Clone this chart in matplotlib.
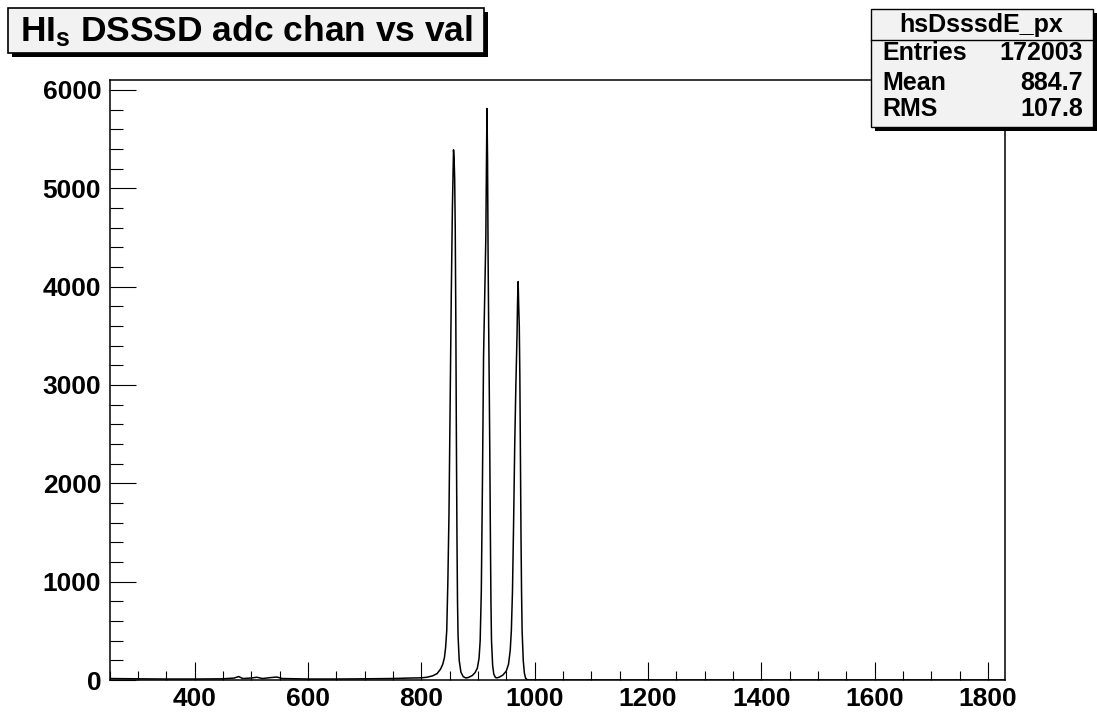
import matplotlib
matplotlib.use("Agg")
import matplotlib.pyplot as plt
from matplotlib.patches import Rectangle
from matplotlib.ticker import MultipleLocator
from matplotlib.lines import Line2D

plt.rcParams['font.family'] = ['Liberation Sans', 'DejaVu Sans']
plt.rcParams['mathtext.fontset'] = 'custom'
plt.rcParams['mathtext.rm'] = 'Liberation Sans:bold'
plt.rcParams['mathtext.bf'] = 'Liberation Sans:bold'
plt.rcParams['mathtext.it'] = 'Liberation Sans:bold'

# ---- data (channel, counts) ----
channels = [250, 300, 350, 400, 450, 470, 478, 485, 500, 510, 520, 535, 545, 555,
            600, 650, 700, 750, 780, 800, 810, 820, 828, 834, 838, 841, 843, 845,
            847, 849, 851, 853, 855, 857, 858, 859, 860, 861, 862, 863, 864, 865,
            867, 870, 874, 878, 881, 884, 890, 895, 899, 902, 904, 906, 908, 910,
            912, 914, 915, 916, 917, 918, 919, 920, 921, 922, 923, 924, 926, 928,
            931, 934, 938, 944, 950, 954, 957, 959, 961, 963, 965, 967, 969, 970,
            971, 972, 973, 974, 975, 976, 977, 978, 980, 982, 984, 987, 990, 1000,
            1830]
counts = [15, 12, 10, 10, 12, 20, 35, 15, 20, 28, 15, 25, 30, 15,
          10, 10, 12, 15, 20, 22, 28, 42, 65, 110, 160, 230, 330, 500,
          1000, 1700, 2800, 3900, 4800, 5390, 5300, 5100, 4600, 3700, 2500, 1500, 800, 450,
          200, 80, 35, 22, 22, 28, 45, 75, 120, 220, 400, 900, 2000, 3300,
          3900, 4500, 5200, 5810, 5300, 4300, 3600, 3000, 2300, 1500, 800, 400, 150, 60,
          25, 22, 30, 50, 90, 160, 300, 500, 900, 1600, 2400, 3000, 3500, 3850,
          4050, 3800, 3600, 3100, 2300, 1500, 900, 500, 200, 70, 20, 3, 0, 0,
          0]

x_ticks = [400, 600, 800, 1000, 1200, 1400, 1600, 1800]
y_ticks = [0, 1000, 2000, 3000, 4000, 5000, 6000]

title_text = r"HI$_{\mathregular{s}}$ DSSSD adc chan vs val"
stats_name = "hsDsssdE_px"
stats_labels = ["Entries", "Mean", "RMS"]
stats_values = ["172003", "884.7", "107.8"]

W, H = 1097, 716
fig = plt.figure(figsize=(W / 100, H / 100), dpi=100)
fig.patch.set_facecolor('white')

def fx(x):
    return x / W

def fy(y):
    return 1 - y / H

ax = fig.add_axes([fx(109.5), fy(680), fx(1005) - fx(109.5), fy(80) - fy(680)])
ax.plot(channels, counts, color='black', lw=1.1)
ax.set_xlim(250, 1830)
ax.set_ylim(0, 6100)
ax.set_xticks(x_ticks)
ax.set_yticks(y_ticks)
ax.xaxis.set_minor_locator(MultipleLocator(50))
ax.yaxis.set_minor_locator(MultipleLocator(200))
ax.tick_params(axis='x', which='major', direction='in', length=13, width=0.8,
               labelsize=19, pad=5, colors='black')
ax.tick_params(axis='x', which='minor', direction='in', length=6.5, width=0.8)
ax.tick_params(axis='y', which='major', direction='in', length=19, width=0.8,
               labelsize=19, pad=6, colors='black')
ax.tick_params(axis='y', which='minor', direction='in', length=9.5, width=0.8)
for lab in ax.get_xticklabels() + ax.get_yticklabels():
    lab.set_fontweight('bold')
for sp in ax.spines.values():
    sp.set_linewidth(1.1)
    sp.set_color('black')

# ---- title box ----
shadow = 4
tx0, ty0, tx1, ty1 = 8, 8, 484, 53
fig.add_artist(Rectangle((fx(tx0 + shadow), fy(ty1 + shadow)), fx(tx1 - tx0), fy(ty0) - fy(ty1),
                         transform=fig.transFigure, facecolor='black', edgecolor='none', zorder=5))
fig.add_artist(Rectangle((fx(tx0), fy(ty1)), fx(tx1 - tx0), fy(ty0) - fy(ty1),
                         transform=fig.transFigure, facecolor='#f2f2f2', edgecolor='black',
                         lw=1.2, zorder=6))
fig.text(fx(20), fy(41), title_text, fontsize=25.5, fontweight='bold', ha='left',
         va='baseline', zorder=7)

# ---- stats box ----
sx0, sy0, sx1, sy1 = 871, 9, 1093, 127
fig.add_artist(Rectangle((fx(sx0 + shadow), fy(sy1 + shadow)), fx(sx1 - sx0), fy(sy0) - fy(sy1),
                         transform=fig.transFigure, facecolor='black', edgecolor='none', zorder=5))
fig.add_artist(Rectangle((fx(sx0), fy(sy1)), fx(sx1 - sx0), fy(sy0) - fy(sy1),
                         transform=fig.transFigure, facecolor='#f2f2f2', edgecolor='black',
                         lw=1.0, zorder=6))
fig.add_artist(Line2D([fx(sx0), fx(sx1)], [fy(39.5), fy(39.5)], transform=fig.transFigure,
                      color='black', lw=1.0, zorder=7))
fig.text(fx(981), fy(25), stats_name, fontsize=18, fontweight='bold', ha='center',
         va='center', zorder=7)
row_y = [53, 83, 109]
for lbl, val, yy in zip(stats_labels, stats_values, row_y):
    fig.text(fx(882), fy(yy), lbl, fontsize=18, fontweight='bold', ha='left', va='center', zorder=7)
    fig.text(fx(1083), fy(yy), val, fontsize=18, fontweight='bold', ha='right', va='center', zorder=7)

fig.savefig("out.png", dpi=100)
